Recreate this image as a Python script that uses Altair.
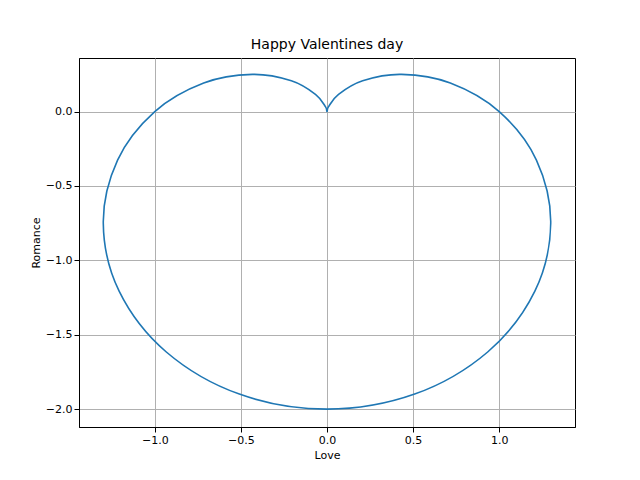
import altair as alt
import pandas as pd

# points, in drawing order (closed curve)
love = [1.0, 0.716, 0.433, 0.207, 0.067, 0.009, 0.0, -0.009, -0.067, -0.207, -0.433, -0.716,
        -1.0, -1.216, -1.299, -1.207, -0.933, -0.509, 0.0, 0.509, 0.933, 1.207, 1.299, 1.216]
romance = [0.0, 0.192, 0.25, 0.207, 0.116, 0.033, 0.0, 0.033, 0.116, 0.207, 0.25, 0.192,
           0.0, -0.326, -0.75, -1.207, -1.616, -1.899, -2.0, -1.899, -1.616, -1.207, -0.75, -0.326]

df = pd.DataFrame({"love": love, "romance": romance, "order": range(len(love))})

chart = alt.Chart(df, title=alt.Title("Happy Valentines day", fontSize=14, fontWeight="normal",
                                      font="DejaVu Sans", offset=6)).mark_line(
    color="#1f77b4", strokeWidth=1.6, interpolate="cardinal-closed"
).encode(
    x=alt.X("love:Q", title="Love", scale=alt.Scale(domain=[-1.44, 1.44], nice=False),
            axis=alt.Axis(values=[-1.0, -0.5, 0.0, 0.5, 1.0], format=".1f")),
    y=alt.Y("romance:Q", title="Romance", scale=alt.Scale(domain=[-2.12, 0.36], nice=False),
            axis=alt.Axis(values=[-2.0, -1.5, -1.0, -0.5, 0.0], format=".1f")),
    order="order:Q",
).properties(
    width=496, height=369,
    padding={"left": 22, "top": 30, "right": 5, "bottom": 5},
).configure_axis(
    grid=True, gridColor="#b0b0b0", domainColor="black", tickColor="black",
    labelFont="DejaVu Sans", titleFont="DejaVu Sans", labelFontSize=11, titleFontSize=11,
    titleFontWeight="normal", labelColor="black", titleColor="black"
).configure_view(stroke="black")

chart.save("out.html", embed_options={"renderer": "svg", "actions": False})
